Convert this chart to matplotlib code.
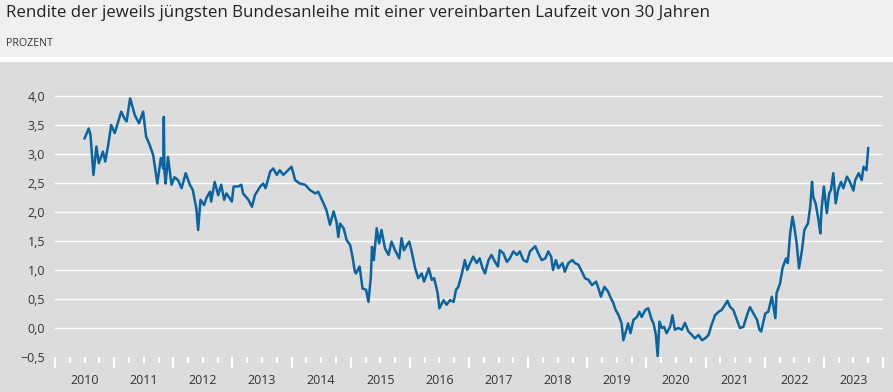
import matplotlib
matplotlib.use("Agg")
import matplotlib.pyplot as plt
from matplotlib.patches import Rectangle
from matplotlib.ticker import FixedLocator
import numpy as np

# Werte (Jahr als Dezimalzahl, Rendite in Prozent)
jahre = [
    2010.50, 2010.57, 2010.60, 2010.65, 2010.70, 2010.74, 2010.81, 2010.85, 2010.90, 2010.95,
    2011.01, 2011.12, 2011.17, 2011.21, 2011.27, 2011.35, 2011.42, 2011.49, 2011.54, 2011.60,
    2011.66, 2011.73, 2011.79, 2011.83, 2011.84, 2011.85, 2011.87, 2011.91, 2011.97, 2012.02,
    2012.08, 2012.14, 2012.21, 2012.28, 2012.33, 2012.39, 2012.42, 2012.46, 2012.52, 2012.56,
    2012.62, 2012.64, 2012.70, 2012.76, 2012.81, 2012.86, 2012.90, 2012.99, 2013.02, 2013.10,
    2013.15, 2013.18, 2013.27, 2013.33, 2013.38, 2013.47, 2013.52, 2013.56, 2013.64, 2013.69,
    2013.75, 2013.80, 2013.86, 2013.92, 2014.00, 2014.06, 2014.14, 2014.23, 2014.31, 2014.40,
    2014.45, 2014.54, 2014.59, 2014.65, 2014.71, 2014.76, 2014.79, 2014.82, 2014.88, 2014.93,
    2014.99, 2015.03, 2015.07, 2015.09, 2015.15, 2015.20, 2015.26, 2015.30, 2015.34, 2015.36,
    2015.39, 2015.44, 2015.48, 2015.52, 2015.58, 2015.64, 2015.69, 2015.75, 2015.82, 2015.86,
    2015.90, 2015.95, 2015.99, 2016.03, 2016.09, 2016.14, 2016.20, 2016.24, 2016.29, 2016.32,
    2016.37, 2016.41, 2016.47, 2016.50, 2016.57, 2016.62, 2016.68, 2016.74, 2016.78, 2016.82,
    2016.88, 2016.93, 2016.97, 2017.02, 2017.07, 2017.13, 2017.18, 2017.23, 2017.27, 2017.33,
    2017.38, 2017.44, 2017.49, 2017.52, 2017.58, 2017.64, 2017.69, 2017.75, 2017.81, 2017.86,
    2017.92, 2017.98, 2018.03, 2018.12, 2018.17, 2018.23, 2018.29, 2018.34, 2018.39, 2018.42,
    2018.47, 2018.51, 2018.58, 2018.62, 2018.68, 2018.75, 2018.79, 2018.85, 2018.91, 2018.96,
    2019.02, 2019.08, 2019.15, 2019.19, 2019.23, 2019.29, 2019.35, 2019.40, 2019.44, 2019.48,
    2019.53, 2019.58, 2019.61, 2019.66, 2019.69, 2019.73, 2019.78, 2019.84, 2019.88, 2019.92,
    2019.98, 2020.03, 2020.09, 2020.12, 2020.16, 2020.19, 2020.22, 2020.26, 2020.30, 2020.34,
    2020.40, 2020.44, 2020.48, 2020.54, 2020.60, 2020.65, 2020.71, 2020.77, 2020.82, 2020.88,
    2020.94, 2020.99, 2021.05, 2021.10, 2021.16, 2021.22, 2021.27, 2021.33, 2021.37, 2021.41,
    2021.47, 2021.53, 2021.58, 2021.64, 2021.70, 2021.75, 2021.81, 2021.87, 2021.91, 2021.94,
    2022.01, 2022.06, 2022.12, 2022.18, 2022.20, 2022.26, 2022.30, 2022.36, 2022.39, 2022.43,
    2022.47, 2022.50, 2022.54, 2022.58, 2022.63, 2022.67, 2022.73, 2022.77, 2022.80, 2022.82,
    2022.86, 2022.91, 2022.94, 2022.96, 2023.00, 2023.05, 2023.09, 2023.12, 2023.16, 2023.20,
    2023.24, 2023.29, 2023.33, 2023.39, 2023.44, 2023.50, 2023.53, 2023.59, 2023.64, 2023.67,
    2023.72, 2023.75,
]
rendite = [
    3.27, 3.44, 3.33, 2.64, 3.13, 2.84, 3.04, 2.87, 3.16, 3.50,
    3.36, 3.73, 3.62, 3.56, 3.96, 3.67, 3.53, 3.73, 3.30, 3.16,
    2.98, 2.49, 2.93, 2.75, 3.64, 2.72, 2.49, 2.95, 2.47, 2.60,
    2.55, 2.41, 2.67, 2.47, 2.38, 2.06, 1.69, 2.21, 2.12, 2.24,
    2.35, 2.18, 2.52, 2.29, 2.47, 2.21, 2.32, 2.18, 2.44, 2.44,
    2.47, 2.32, 2.21, 2.09, 2.29, 2.44, 2.49, 2.41, 2.70, 2.75,
    2.64, 2.72, 2.64, 2.70, 2.78, 2.55, 2.49, 2.47, 2.38, 2.32,
    2.35, 2.15, 2.03, 1.78, 2.01, 1.83, 1.57, 1.80, 1.72, 1.52,
    1.43, 1.23, 0.97, 0.94, 1.06, 0.68, 0.66, 0.45, 0.88, 1.40,
    1.17, 1.72, 1.46, 1.69, 1.37, 1.26, 1.49, 1.34, 1.20, 1.55,
    1.34, 1.43, 1.49, 1.32, 1.03, 0.86, 0.94, 0.80, 0.94, 1.03,
    0.83, 0.86, 0.60, 0.34, 0.48, 0.40, 0.48, 0.45, 0.66, 0.71,
    0.94, 1.17, 1.00, 1.12, 1.23, 1.12, 1.20, 1.03, 0.94, 1.17,
    1.26, 1.14, 1.06, 1.34, 1.29, 1.14, 1.20, 1.32, 1.26, 1.32,
    1.17, 1.14, 1.32, 1.41, 1.29, 1.17, 1.20, 1.32, 1.23, 1.00,
    1.17, 1.03, 1.12, 0.97, 1.12, 1.17, 1.12, 1.09, 0.97, 0.86,
    0.83, 0.74, 0.80, 0.68, 0.54, 0.71, 0.63, 0.51, 0.43, 0.31,
    0.22, 0.08, -0.21, -0.03, 0.08, -0.09, 0.14, 0.19, 0.28, 0.19,
    0.31, 0.34, 0.14, 0.08, -0.12, -0.49, 0.11, 0.00, 0.02, -0.09,
    0.02, 0.22, -0.03, 0.00, -0.03, 0.09, -0.06, -0.12, -0.18, -0.12,
    -0.21, -0.18, -0.12, 0.05, 0.22, 0.28, 0.31, 0.40, 0.47, 0.37,
    0.31, 0.14, 0.00, 0.02, 0.22, 0.36, 0.25, 0.14, -0.03, -0.06,
    0.25, 0.28, 0.54, 0.17, 0.60, 0.77, 1.03, 1.20, 1.12, 1.63,
    1.92, 1.75, 1.46, 1.03, 1.34, 1.69, 1.80, 2.09, 2.52, 2.26,
    2.15, 1.86, 1.63, 2.03, 2.44, 1.98, 2.32, 2.38, 2.67, 2.15,
    2.38, 2.52, 2.41, 2.61, 2.52, 2.37, 2.55, 2.67, 2.55, 2.78,
    2.72, 3.10,
]

jahr_labels = ["2010", "2011", "2012", "2013", "2014", "2015", "2016",
               "2017", "2018", "2019", "2020", "2021", "2022", "2023"]
y_ticks = [-0.5, 0.0, 0.5, 1.0, 1.5, 2.0, 2.5, 3.0, 3.5, 4.0]

titel = "Rendite der jeweils jüngsten Bundesanleihe mit einer vereinbarten Laufzeit von 30 Jahren"
einheit = "PROZENT"

plt.rcParams['font.family'] = ['Open Sans', 'DejaVu Sans']

W, H = 893, 392
fig = plt.figure(figsize=(W / 100, H / 100), dpi=100)
fig.patch.set_facecolor("white")

# Kopfbereich und Diagrammfläche
fig.patches.append(Rectangle((0, 1 - 57 / H), 1, 57 / H, transform=fig.transFigure,
                             facecolor="#f0f0f0", edgecolor="none", zorder=-5))
fig.patches.append(Rectangle((0, 0), 1, 1 - 62 / H, transform=fig.transFigure,
                             facecolor="#dcdcdc", edgecolor="none", zorder=-5))

fig.text(6 / W, 1 - 13 / H, titel, fontsize=12.2, color="#222222", va="center", ha="left")
fig.text(6 / W, 1 - 43 / H, einheit, fontsize=7.7, color="#333333", va="center", ha="left")

x0, x1 = 2010, 2024
y0, y1 = -0.5, 4.2
ax_left, ax_right = 55 / W, 883 / W
ax_bottom = (H - 357) / H
px_per_unit = 58
ax_h_px = (y1 - y0) * px_per_unit
ax = fig.add_axes([ax_left, ax_bottom, ax_right - ax_left, ax_h_px / H])
ax.set_facecolor("none")
ax.set_xlim(x0, x1)
ax.set_ylim(y0, y1)

for v in y_ticks[1:]:
    ax.axhline(v, color="white", lw=1.0, zorder=1)

ax.plot(jahre, rendite, color="#0a64a0", lw=1.8, zorder=3, solid_joinstyle="round")

for s in ax.spines.values():
    s.set_visible(False)

ax.set_yticks(y_ticks)
ax.set_yticklabels([f"{v:.1f}".replace(".", ",").replace("-", "\u2212") for v in y_ticks])
ax.tick_params(axis="y", length=0, pad=7, labelsize=9, labelcolor="#333333")

ax.xaxis.set_major_locator(FixedLocator(np.arange(x0, x1 + 1)))
ax.xaxis.set_minor_locator(FixedLocator(np.arange(x0, x1 + 0.01, 0.25)))
ax.tick_params(axis="x", which="major", length=8, width=1.5, color="white", labelbottom=False)
ax.tick_params(axis="x", which="minor", length=4.5, width=1.5, color="white")

for i, lab in enumerate(jahr_labels):
    ax.text(x0 + i + 0.5, -24 / ax_h_px, lab, transform=ax.get_xaxis_transform(),
            ha="center", va="center", fontsize=9, color="#333333")

fig.savefig("out.png", dpi=100, facecolor=fig.get_facecolor())
